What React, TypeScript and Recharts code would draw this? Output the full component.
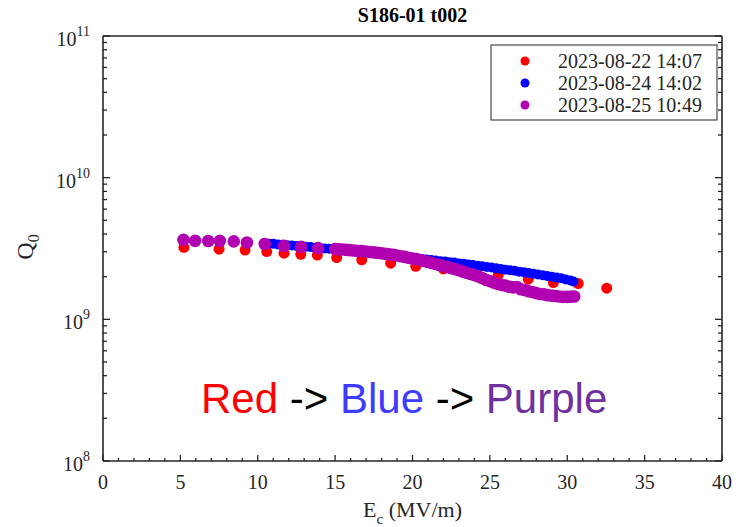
import { ScatterChart, Scatter, XAxis, YAxis } from 'recharts'

// Q0 vs Ec, three measurement runs (Q values in units of 1e9)
const redE = [5.23, 7.5, 9.18, 10.58, 11.7, 12.78, 13.85, 15.1, 16.72, 18.59, 20.21, 22.0, 23.8, 25.54, 27.48, 29.1, 30.71, 32.55]
const redQ = [3.22, 3.13, 3.08, 3.01, 2.93, 2.88, 2.84, 2.73, 2.63, 2.49, 2.37, 2.27, 2.15, 2.06, 1.92, 1.82, 1.79, 1.66]

const blueE = [
  6.0, 7.5, 9.35, 10.4, 10.7, 11.0, 11.3, 11.6, 11.9, 12.2, 12.5, 12.8, 13.1, 13.4, 13.7, 14.0, 14.3, 14.6, 14.9,
  15.2, 15.5, 15.8, 16.1, 16.4, 16.7, 17.0, 17.3, 17.6, 17.9, 18.2, 18.5, 18.8, 19.1, 19.4, 19.7, 20.0, 20.3,
  20.6, 20.9, 21.2, 21.5, 21.8, 22.1, 22.4, 22.7, 23.0, 23.3, 23.6, 23.9, 24.2, 24.5, 24.8, 25.1, 25.4, 25.7,
  26.0, 26.3, 26.6, 26.9, 27.2, 27.5, 27.8, 28.1, 28.4, 28.7, 29.0, 29.3, 29.6, 29.9, 30.2, 30.4,
]
const blueQ = [
  3.63, 3.57, 3.5, 3.44, 3.41, 3.42, 3.38, 3.36, 3.33, 3.32, 3.29, 3.28, 3.25, 3.24, 3.2, 3.19, 3.16, 3.15, 3.13,
  3.1, 3.09, 3.06, 3.04, 3.02, 3.0, 2.98, 2.95, 2.93, 2.9, 2.88, 2.86, 2.82, 2.8, 2.78, 2.74, 2.72, 2.69,
  2.67, 2.64, 2.62, 2.6, 2.57, 2.56, 2.53, 2.52, 2.48, 2.47, 2.44, 2.42, 2.39, 2.37, 2.34, 2.32, 2.29, 2.27,
  2.24, 2.22, 2.2, 2.17, 2.15, 2.12, 2.1, 2.07, 2.05, 2.02, 2.0, 1.97, 1.95, 1.91, 1.88, 1.85,
]

const purpleE = [
  5.2, 5.95, 6.8, 7.55, 8.45, 9.3, 10.45, 11.7, 12.8, 13.9,
  15.0, 15.25, 15.5, 15.75, 16.0, 16.25, 16.5, 16.75, 17.0, 17.25, 17.5, 17.75, 18.0, 18.25, 18.5, 18.75,
  19.0, 19.25, 19.5, 19.75, 20.0, 20.25, 20.5, 20.75, 21.0, 21.25, 21.5, 21.75, 22.0, 22.25, 22.5, 22.75,
  23.0, 23.25, 23.5, 23.75, 24.0, 24.25, 24.5, 24.75, 25.0, 25.25, 25.5, 25.75, 26.0, 26.25, 26.5, 26.75,
  27.0, 27.25, 27.5, 27.75, 28.0, 28.25, 28.5, 28.75, 29.0, 29.25, 29.5, 29.75, 30.0, 30.25, 30.45,
]
const purpleQ = [
  3.64, 3.58, 3.57, 3.58, 3.55, 3.49, 3.4, 3.3, 3.25, 3.18,
  3.14, 3.12, 3.11, 3.09, 3.07, 3.06, 3.04, 3.03, 3.01, 2.99, 2.97, 2.95, 2.93, 2.9, 2.88, 2.85,
  2.82, 2.79, 2.76, 2.72, 2.69, 2.66, 2.62, 2.58, 2.54, 2.5, 2.46, 2.42, 2.38, 2.34, 2.3, 2.26,
  2.22, 2.17, 2.13, 2.09, 2.05, 2.01, 1.96, 1.9, 1.86, 1.82, 1.78, 1.75, 1.73, 1.7, 1.68, 1.69,
  1.63, 1.61, 1.58, 1.56, 1.53, 1.51, 1.5, 1.48, 1.47, 1.46, 1.45, 1.44, 1.44, 1.45, 1.45,
]

const xTicks = [
  0, 1, 2, 3, 4, 5, 6, 7, 8, 9, 10, 11, 12, 13, 14, 15, 16, 17, 18, 19, 20,
  21, 22, 23, 24, 25, 26, 27, 28, 29, 30, 31, 32, 33, 34, 35, 36, 37, 38, 39, 40,
]
const yTicks = [
  1e8, 2e8, 3e8, 4e8, 5e8, 6e8, 7e8, 8e8, 9e8,
  1e9, 2e9, 3e9, 4e9, 5e9, 6e9, 7e9, 8e9, 9e9,
  1e10, 2e10, 3e10, 4e10, 5e10, 6e10, 7e10, 8e10, 9e10, 1e11,
]
const runLabels = ['2023-08-22 14:07', '2023-08-24 14:02', '2023-08-25 10:49']
const runColors = ['#ff0000', '#0000ff', '#b000b0']

const toPoints = (es: number[], qs: number[]) => es.map((e, i) => ({ e, q: qs[i] * 1e9 }))
const redData = toPoints(redE, redQ)
const blueData = toPoints(blueE, blueQ)
const purpleData = toPoints(purpleE, purpleQ)

const W = 742
const H = 527
const PL = 103
const PR = 722
const PT = 36
const PB = 461
const frame = '#262626'
const serif = '"Liberation Serif", "Times New Roman", serif'
const sans = '"Liberation Sans", Arial, sans-serif'

const isDecade = (v: number) => {
  const p = Math.log10(v)
  return Math.abs(p - Math.round(p)) < 1e-9
}

function BottomTick({ x, y, payload }: any) {
  const v = payload.value
  const major = v % 5 === 0
  return (
    <g>
      <line x1={x} x2={x} y1={y} y2={y - (major ? 6 : 3)} stroke={frame} strokeWidth={1.3} />
      {major && (
        <text x={x} y={y + 28} textAnchor="middle" fontFamily={serif} fontSize={20} fill={frame}>
          {v}
        </text>
      )}
    </g>
  )
}

function TopTick({ x, y, payload }: any) {
  const major = payload.value % 5 === 0
  return <line x1={x} x2={x} y1={y} y2={y + (major ? 6 : 3)} stroke={frame} strokeWidth={1.3} />
}

function LeftTick({ x, y, payload }: any) {
  const v = payload.value
  const major = isDecade(v)
  return (
    <g>
      <line x1={x} x2={x + (major ? 7 : 4)} y1={y} y2={y} stroke={frame} strokeWidth={1.3} />
      {major && (
        <text x={x - 13} y={y + 10} textAnchor="end" fontFamily={serif} fontSize={20} fill={frame}>
          <tspan>10</tspan>
          <tspan dy={-10} fontSize={14}>{Math.round(Math.log10(v))}</tspan>
        </text>
      )}
    </g>
  )
}

function RightTick({ x, y, payload }: any) {
  const major = isDecade(payload.value)
  return <line x1={x} x2={x - (major ? 7 : 4)} y1={y} y2={y} stroke={frame} strokeWidth={1.3} />
}

const dot = (r: number, fill: string) => (p: any) => <circle cx={p.cx} cy={p.cy} r={r} fill={fill} />

export default function App() {
  return (
    <div style={{ position: 'relative', width: W, height: H }}>
      <style>{'body { margin: 0; }'}</style>
      <ScatterChart width={W} height={H} margin={{ top: PT - 1, right: W - PR - 1, bottom: 0, left: 0 }}>
        <XAxis
          xAxisId="b"
          dataKey="e"
          type="number"
          domain={[0, 40]}
          ticks={xTicks}
          interval={0}
          allowDataOverflow
          height={H - PB}
          tickSize={0}
          tickMargin={0}
          tickLine={false}
          tick={<BottomTick />}
          axisLine={{ stroke: frame, strokeWidth: 1.6 }}
        />
        <XAxis
          xAxisId="t"
          orientation="top"
          type="number"
          domain={[0, 40]}
          ticks={xTicks}
          interval={0}
          allowDataOverflow
          height={1}
          tickSize={0}
          tickMargin={0}
          tickLine={false}
          tick={<TopTick />}
          axisLine={{ stroke: frame, strokeWidth: 1.6 }}
        />
        <YAxis
          yAxisId="l"
          dataKey="q"
          type="number"
          scale="log"
          domain={[1e8, 1e11]}
          ticks={yTicks}
          interval={0}
          allowDataOverflow
          width={PL}
          tickSize={0}
          tickMargin={0}
          tickLine={false}
          tick={<LeftTick />}
          axisLine={{ stroke: frame, strokeWidth: 1.6 }}
        />
        <YAxis
          yAxisId="r"
          orientation="right"
          type="number"
          scale="log"
          domain={[1e8, 1e11]}
          ticks={yTicks}
          interval={0}
          allowDataOverflow
          width={1}
          tickSize={0}
          tickMargin={0}
          tickLine={false}
          tick={<RightTick />}
          axisLine={{ stroke: frame, strokeWidth: 1.6 }}
        />
        <Scatter xAxisId="b" yAxisId="l" data={redData} shape={dot(5.5, runColors[0])} isAnimationActive={false} />
        <Scatter xAxisId="b" yAxisId="l" data={blueData} shape={dot(5, runColors[1])} isAnimationActive={false} />
        <Scatter xAxisId="b" yAxisId="l" data={purpleData} shape={dot(6.3, runColors[2])} isAnimationActive={false} />
      </ScatterChart>

      <svg width={W} height={H} style={{ position: 'absolute', left: 0, top: 0, pointerEvents: 'none' }}>
        <text x={(PL + PR) / 2} y={22} textAnchor="middle" fontFamily={serif} fontWeight="bold" fontSize={20} fill="#000">
          S186-01 t002
        </text>
        <text x={(PL + PR) / 2} y={517} textAnchor="middle" fontFamily={serif} fontSize={22} fill={frame}>
          E<tspan dy={7} fontSize={15}>c</tspan>
          <tspan dy={-7}> (MV/m)</tspan>
        </text>
        <text transform="translate(33,247) rotate(-90)" textAnchor="middle" fontFamily={serif} fontSize={24} fill={frame}>
          Q<tspan dy={6} fontSize={16}>0</tspan>
        </text>

        <rect x={491} y={45} width={226} height={75} fill="#fff" stroke={frame} strokeWidth={1} />
        {runLabels.map((label, i) => (
          <g key={label}>
            <circle cx={525} cy={61 + i * 22} r={4.5} fill={runColors[i]} />
            <text x={558} y={61 + i * 22 + 6.5} fontFamily={serif} fontSize={20} fill={frame}>
              {label}
            </text>
          </g>
        ))}

        <text x={201} y={413} fontFamily={sans} fontSize={42}>
          <tspan fill="#ff0000">Red</tspan>
          <tspan fill="#000"> -&gt; </tspan>
          <tspan fill="#3c3cff">Blue</tspan>
          <tspan fill="#000"> -&gt; </tspan>
          <tspan fill="#7030a0">Purple</tspan>
        </text>
      </svg>
    </div>
  )
}
